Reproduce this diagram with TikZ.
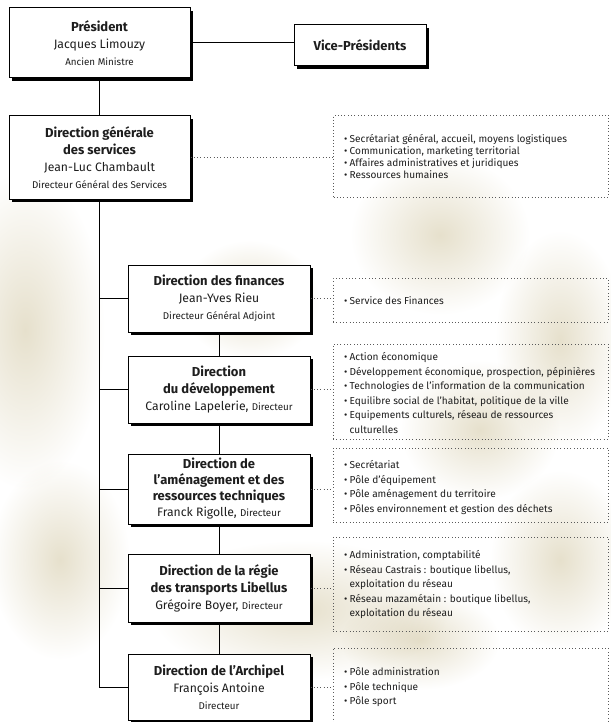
\documentclass[tikz,border=0pt]{standalone}
\usepackage{fontspec}
\setmainfont{Fira Sans}
\usetikzlibrary{shadows}
\definecolor{ink}{HTML}{1E1E1E}
\definecolor{dotc}{HTML}{5A5A5A}
\definecolor{beige}{RGB}{230,224,204}
\newcommand\Ttl[1]{{\fontsize{13}{17}\selectfont\bfseries #1}}
\newcommand\Sml[1]{{\fontsize{9.8}{17}\selectfont #1}}
\newcommand\Itm[1]{\makebox[5.5pt][l]{•}#1}
\newcommand\Cnt[1]{\hspace*{5.5pt}#1}
\begin{document}
\begin{tikzpicture}[x=1pt,y=-1pt,
  box/.style={draw=black, line width=1pt, fill=white, align=center, text=ink, inner sep=0pt,
     font=\fontsize{12.2}{17}\selectfont,
     drop shadow={shadow xshift=2.6pt, shadow yshift=-2.6pt, fill=black, opacity=1}},
  dirbox/.style={box, minimum width=182pt},
  listbox/.style={draw=dotc, line width=0.7pt, dash pattern=on 0.7pt off 2.6pt, minimum width=275pt, inner sep=0pt},
  listtext/.style={anchor=west, align=left, text=ink, font=\fontsize{10.1}{14.5}\selectfont, inner sep=0pt},
  link/.style={draw=black, line width=1pt},
  dotlink/.style={draw=dotc, line width=0.7pt, dash pattern=on 0.7pt off 2.6pt},
]
\useasboundingbox (0,0) rectangle (610,722);
\fill[white] (0,0) rectangle (610,722);
% faint background
\foreach \cx/\cy/\rx/\ry in {25/330/80/160, 440/235/90/80, 560/340/65/110, 300/610/150/70, 60/560/70/100, 480/430/80/70, 250/300/70/60, 560/560/70/90, 420/640/80/50}
  \shade[blend mode=multiply, inner color=beige, outer color=white] (\cx,\cy) ellipse [x radius=\rx, y radius=\ry];

% boxes
\node[box, minimum width=181pt, minimum height=70pt] (pres) at (99.5,43)
  {\Ttl{Président}\\Jacques Limouzy\\\Sml{Ancien Ministre}};
\node[box, minimum width=132pt, minimum height=41pt] (vp) at (360,45.5)
  {\Ttl{Vice-Présidents}};
\node[box, minimum width=181pt, minimum height=83pt] (dg) at (99.5,157.5)
  {\Ttl{Direction générale}\\\Ttl{des services}\\Jean-Luc Chambault\\\Sml{Directeur Général des Services}};
\node[dirbox, minimum height=67pt] (fin) at (219,298.5)
  {\Ttl{Direction des finances}\\Jean-Yves Rieu\\\Sml{Directeur Général Adjoint}};
\node[dirbox, minimum height=67pt] (dev) at (219,389.5)
  {\Ttl{Direction}\\\Ttl{du développement}\\Caroline Lapelerie, \Sml{Directeur}};
\node[dirbox, minimum height=70pt, font=\fontsize{12.2}{16}\selectfont] (amen) at (219,489)
  {\Ttl{Direction de}\\\Ttl{l'aménagement et des}\\\Ttl{ressources techniques}\\Franck Rigolle, \Sml{Directeur}};
\node[dirbox, minimum height=68pt] (trans) at (219,588)
  {\Ttl{Direction de la régie}\\\Ttl{des transports Libellus}\\Grégoire Boyer, \Sml{Directeur}};
\node[dirbox, minimum height=66pt] (arch) at (219,687)
  {\Ttl{Direction de l'Archipel}\\François Antoine\\\Sml{Directeur}};

% list boxes
\node[listbox, minimum height=82pt] (dgl) at (471,156) {};
\node[listbox, minimum height=44pt] (finl) at (470.5,300) {};
\node[listbox, minimum height=95pt] (devl) at (470.5,391.5) {};
\node[listbox, minimum height=74pt] (amenl) at (470.5,485) {};
\node[listbox, minimum height=94pt] (transl) at (470.5,584) {};
\node[listbox, minimum height=112pt] (archl) at (470.5,704) {};

\node[listtext, font=\fontsize{10.1}{12}\selectfont] (dgt) at (344,157)
  {\Itm{Secrétariat général, accueil, moyens logistiques}\\\Itm{Communication, marketing territorial}\\\Itm{Affaires administratives et juridiques}\\\Itm{Ressources humaines}};
\node[listtext] (fint) at (344,301) {\Itm{Service des Finances}};
\node[listtext] (devt) at (344,393)
  {\Itm{Action économique}\\\Itm{Développement économique, prospection, pépinières}\\\Itm{Technologies de l'information de la communication}\\\Itm{Equilibre social de l'habitat, politique de la ville}\\\Itm{Equipements culturels, réseau de ressources}\\\Cnt{culturelles}};
\node[listtext] (ament) at (344,487.5)
  {\Itm{Secrétariat}\\\Itm{Pôle d'équipement}\\\Itm{Pôle aménagement du territoire}\\\Itm{Pôles environnement et gestion des déchets}};
\node[listtext] (transt) at (344,585)
  {\Itm{Administration, comptabilité}\\\Itm{Réseau Castrais : boutique libellus,}\\\Cnt{exploitation du réseau}\\\Itm{Réseau mazamétain : boutique libellus,}\\\Cnt{exploitation du réseau}};
\node[listtext] (archt) at (344,687.5)
  {\Itm{Pôle administration}\\\Itm{Pôle technique}\\\Itm{Pôle sport}};

% connectors
\draw[link] (pres.east) -- (pres.east -| vp.west);
\draw[link] (pres.south) -- (dg.north);
\draw[link] (dg.south) |- (arch.west);
\foreach \n in {fin,dev,amen,trans}
  \draw[link] (dg.south |- \n.west) -- (\n.west);
\draw[link] (fin.south) -- (dev.north);
\draw[link] (dev.south) -- (amen.north);
\draw[link] (amen.south) -- (trans.north);
\draw[link] (trans.south) -- (arch.north);
\draw[dotlink] (dg.east) -- (dg.east -| dgl.west);
\draw[dotlink] (fin.east) -- (fin.east -| finl.west);
\draw[dotlink] (dev.east) -- (dev.east -| devl.west);
\draw[dotlink] (amen.east) -- (amen.east -| amenl.west);
\draw[dotlink] (trans.east) -- (trans.east -| transl.west);
\draw[dotlink] (arch.east) -- (arch.east -| archl.west);
\end{tikzpicture}
\end{document}
